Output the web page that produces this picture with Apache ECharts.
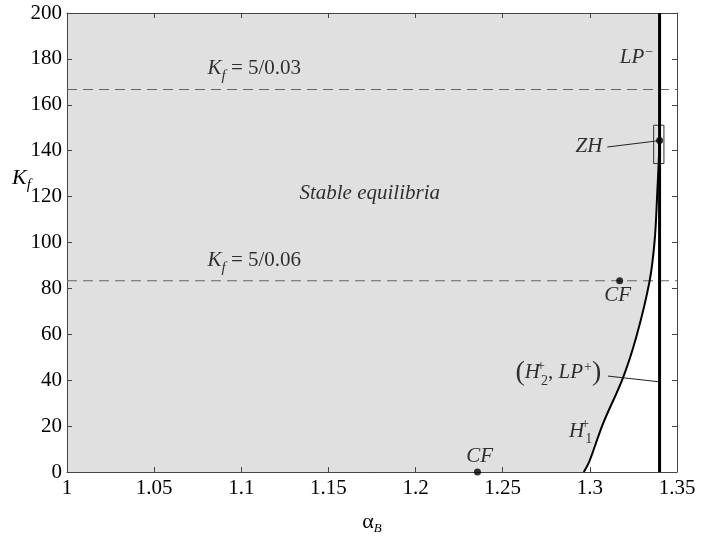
<!DOCTYPE html>
<html><head><meta charset="utf-8">
<script src="https://cdn.jsdelivr.net/npm/echarts@6/dist/echarts.min.js"></script>
<style>html,body{margin:0;padding:0;background:#fff}#c{width:704px;height:540px}</style>
</head><body><div id="c"></div>
<script>
// ---- data ----
const xTickLabels = ['1','1.05','1.1','1.15','1.2','1.25','1.3','1.35'];
const yTickLabels = ['0','20','40','60','80','100','120','140','160','180','200'];
// H1+ / (H2+,LP+) boundary curve
const h1Alpha = [1.2965, 1.2999, 1.3075, 1.3190, 1.3267, 1.3343, 1.3372, 1.3387, 1.3395, 1.3400];
const h1K     = [0,      5,      21,     41,     59,     83.3,   101,    122,    135,    144.4];
// LP- vertical boundary
const lpAlpha = 1.3400;
const lpK = [0, 200];
// K_f = 5/Kd lines
const kfValues = [5/0.03, 5/0.06];
// special points (CF, CF, ZH)
const cfAlpha = [1.2355, 1.3171];
const cfK = [0, 83.33];
const zhAlpha = 1.3400, zhK = 144.4;
// ZH inset box
const zhBoxAlpha = [1.3366, 1.3425];
const zhBoxK = [134.4, 151.1];
// annotation pointers
const zhPointer = [[1.3100, 141.6], [1.3400, 144.4]];
const lpPlusPointer = [[1.3104, 41.8], [1.3398, 39.3]];
// annotations: [alpha, K, text-key]
const annAlpha = [1.3268, 1.3075, 1.1737, 1.0803, 1.0803, 1.3159, 1.2368, 1.3068, 1.2947];
const annK     = [180.0, 141.3, 120.8, 175.2, 91.6, 76.1, 5.9, 41.8, 17.1];
const annKey   = ['LPm','ZH','stable','kf03','kf06','CF','CF','H2LP','H1'];

// ---- build ----
const FONT = 'Liberation Serif';
const C = '#000';
const rich = {
  i:   {fontFamily: FONT, fontStyle: 'italic', fontSize: 21, color: C, lineHeight: 24, verticalAlign: 'top'},
  iK:  {fontFamily: FONT, fontStyle: 'italic', fontSize: 22, color: C, lineHeight: 24, verticalAlign: 'top'},
  n:   {fontFamily: FONT, fontSize: 21, color: C, lineHeight: 24, verticalAlign: 'top'},
  p:   {fontFamily: FONT, fontSize: 28, color: C, lineHeight: 28, verticalAlign: 'top', padding:[-3,0,0,0]},
  sub: {fontFamily: FONT, fontSize: 14, color: C, lineHeight: 14, verticalAlign: 'top', padding: [12,0,0,0]},
  isub:{fontFamily: FONT, fontStyle: 'italic', fontSize: 15, color: C, lineHeight: 15, verticalAlign: 'top', padding: [11,0,0,0]},
  sup: {fontFamily: FONT, fontSize: 14, color: C, lineHeight: 14, verticalAlign: 'top', padding: [-2,0,0,1]},
  sup0:{fontFamily: FONT, fontSize: 14, color: C, lineHeight: 14, verticalAlign: 'top', padding: [-3,0,0,1], width: 0, align: 'left'}
};
const texts = {
  LPm:   {t: '{i|LP}{sup|−}', pos: 'inside'},
  ZH:    {t: '{i|ZH}', pos: 'left'},
  stable:{t: '{i|Stable equilibria}', pos: 'inside'},
  kf03:  {t: '{i|K}{isub|f}{n| = 5/0.03}', pos: 'right'},
  kf06:  {t: '{i|K}{isub|f}{n| = 5/0.06}', pos: 'right'},
  CF:    {t: '{i|CF}', pos: 'inside'},
  H2LP:  {t: '{p|(}{i|H}{sup0|+}{sub|2}{n|, }{i|LP}{sup|+}{p|)}', pos: 'left'},
  H1:    {t: '{i|H}{sup0|+}{sub|1}', pos: 'inside'}
};

const curve = h1Alpha.map((a, i) => [a, h1K[i]]);
const shadePoly = [[1, 0]].concat(curve, [[lpAlpha, 200], [1, 200]]);

const annData = annAlpha.map((a, i) => ({
  value: [a, annK[i]],
  label: {show: true, position: texts[annKey[i]].pos, distance: 0,
          formatter: texts[annKey[i]].t, rich: rich}
}));

const axisColor = '#444';
const chart = echarts.init(document.getElementById('c'), null, {renderer: 'canvas'});
chart.setOption({
  animation: false,
  backgroundColor: '#fff',
  grid: {left: 67, right: 27, top: 13, bottom: 49, containLabel: false},
  xAxis: [
    {type: 'value', min: 1, max: 1.35, interval: 0.05, position: 'bottom',
     axisLine: {show: true, onZero: false, lineStyle: {color: axisColor, width: 1}},
     axisTick: {show: true, inside: true, length: 5, lineStyle: {color: axisColor}},
     axisLabel: {margin: 6, fontFamily: FONT, fontSize: 21, color: C,
                 formatter: v => xTickLabels[Math.round((v - 1) / 0.05)]},
     splitLine: {show: false},
     name: '{a|α}{b|B}', nameLocation: 'middle', nameGap: 39,
     nameTextStyle: {rich: {
       a: {fontFamily: FONT, fontSize: 22, color: C, lineHeight: 22, verticalAlign: 'top'},
       b: {fontFamily: FONT, fontStyle: 'italic', fontSize: 13, color: C, lineHeight: 13, verticalAlign: 'top', padding: [11,0,0,0]}
     }}},
    {type: 'value', min: 1, max: 1.35, interval: 0.05, position: 'top',
     axisLine: {show: true, onZero: false, lineStyle: {color: axisColor, width: 1}},
     axisTick: {show: true, inside: true, length: 5, lineStyle: {color: axisColor}},
     axisLabel: {show: false}, splitLine: {show: false}}
  ],
  yAxis: [
    {type: 'value', min: 0, max: 200, interval: 20, position: 'left',
     axisLine: {show: true, onZero: false, lineStyle: {color: axisColor, width: 1}},
     axisTick: {show: true, inside: true, length: 5, lineStyle: {color: axisColor}},
     axisLabel: {margin: 5, fontFamily: FONT, fontSize: 21, color: C,
                 formatter: v => yTickLabels[Math.round(v / 20)]},
     splitLine: {show: false}},
    {type: 'value', min: 0, max: 200, interval: 20, position: 'right',
     axisLine: {show: true, onZero: false, lineStyle: {color: axisColor, width: 1}},
     axisTick: {show: true, inside: true, length: 5, lineStyle: {color: axisColor}},
     axisLabel: {show: false}, splitLine: {show: false}}
  ],
  graphic: [
    {type: 'text', left: 12, top: 167, z: 10,
     style: {text: '{iK|K}{isub|f}', rich: rich}}
  ],
  series: [
    {type: 'custom', name: 'shade', z: 0, silent: true,
     data: [[1, 0]],
     renderItem: (params, api) => ({
       type: 'polygon',
       shape: {points: shadePoly.map(p => api.coord(p)), smooth: 0},
       style: {fill: '#e0e0e0'}
     })},
    {type: 'line', name: 'Kf 5/0.03', z: 3, symbol: 'none', silent: true,
     data: [[1, kfValues[0]], [1.35, kfValues[0]]],
     lineStyle: {color: '#666', width: 1, type: [10, 6]}},
    {type: 'line', name: 'Kf 5/0.06', z: 3, symbol: 'none', silent: true,
     data: [[1, kfValues[1]], [1.35, kfValues[1]]],
     lineStyle: {color: '#666', width: 1, type: [10, 6]}},
    {type: 'line', name: 'H1', z: 4, symbol: 'none', silent: true,
     smooth: 0.35,
     data: curve, lineStyle: {color: '#000', width: 2}},
    {type: 'line', name: 'LP-', z: 5, symbol: 'none', silent: true,
     data: lpK.map(k => [lpAlpha, k]), lineStyle: {color: '#000', width: 3}},
    {type: 'line', name: 'ZH box', z: 4, symbol: 'none', silent: true,
     data: [[zhBoxAlpha[0], zhBoxK[0]], [zhBoxAlpha[1], zhBoxK[0]], [zhBoxAlpha[1], zhBoxK[1]],
            [zhBoxAlpha[0], zhBoxK[1]], [zhBoxAlpha[0], zhBoxK[0]]],
     lineStyle: {color: '#333', width: 1}},
    {type: 'line', name: 'ZH pointer', z: 4, symbol: 'none', silent: true,
     data: zhPointer, lineStyle: {color: '#222', width: 1}},
    {type: 'line', name: 'LP+ pointer', z: 4, symbol: 'none', silent: true,
     data: lpPlusPointer, lineStyle: {color: '#222', width: 1}},
    {type: 'scatter', name: 'points', z: 6, silent: true, clip: false,
     symbolSize: 7, itemStyle: {color: '#000'},
     data: cfAlpha.map((a, i) => [a, cfK[i]]).concat([[zhAlpha, zhK]])},
    {type: 'scatter', name: 'labels', z: 7, silent: true, clip: false,
     symbolSize: 1, itemStyle: {color: 'rgba(0,0,0,0)'},
     data: annData}
  ]
});
</script></body></html>
